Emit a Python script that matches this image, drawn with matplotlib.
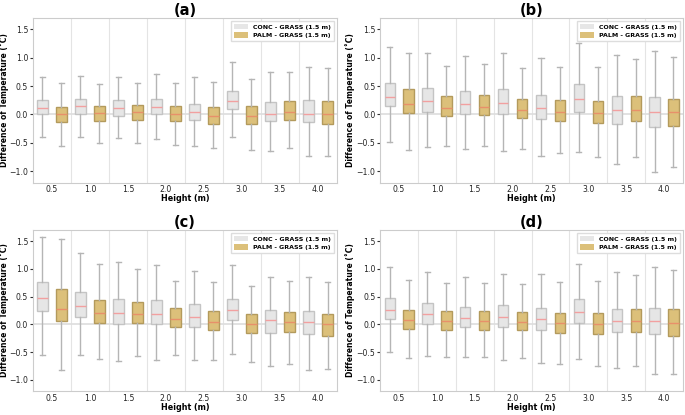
import matplotlib
matplotlib.use("Agg")
import matplotlib.pyplot as plt
from matplotlib.patches import Patch

# ------------------------------------
# Data: (whisker low, Q1, median, Q3, whisker high) per height
# ------------------------------------
heights = ['0.5', '1.0', '1.5', '2.0', '2.5', '3.0', '3.5', '4.0']
panels = ['(a)', '(b)', '(c)', '(d)']

conc_a = [(-0.40, 0.00, 0.12, 0.26, 0.65), (-0.39, 0.00, 0.14, 0.28, 0.67),
          (-0.41, -0.02, 0.12, 0.25, 0.65), (-0.43, 0.00, 0.135, 0.28, 0.72),
          (-0.56, -0.10, 0.035, 0.19, 0.65), (-0.40, 0.09, 0.235, 0.42, 0.92),
          (-0.65, -0.12, 0.015, 0.22, 0.74), (-0.73, -0.14, 0.015, 0.25, 0.84)]
palm_a = [(-0.55, -0.14, 0.00, 0.13, 0.55), (-0.51, -0.12, 0.02, 0.14, 0.54),
          (-0.50, -0.10, 0.035, 0.16, 0.55), (-0.53, -0.12, 0.00, 0.14, 0.55),
          (-0.59, -0.16, -0.02, 0.13, 0.57), (-0.63, -0.17, -0.035, 0.14, 0.62),
          (-0.59, -0.09, 0.035, 0.24, 0.75), (-0.73, -0.16, 0.00, 0.24, 0.82)]

conc_b = [(-0.49, 0.14, 0.31, 0.56, 1.18), (-0.58, 0.05, 0.235, 0.46, 1.09),
          (-0.60, 0.00, 0.18, 0.42, 1.02), (-0.64, 0.00, 0.20, 0.44, 1.08),
          (-0.73, -0.08, 0.11, 0.35, 0.99), (-0.67, 0.05, 0.27, 0.53, 1.25),
          (-0.88, -0.16, 0.07, 0.32, 1.04), (-1.02, -0.22, 0.035, 0.31, 1.11)]
palm_b = [(-0.63, 0.02, 0.18, 0.45, 1.09), (-0.55, -0.02, 0.12, 0.33, 0.86),
          (-0.55, -0.01, 0.13, 0.34, 0.88), (-0.60, -0.065, 0.075, 0.28, 0.81),
          (-0.68, -0.12, 0.035, 0.26, 0.83), (-0.75, -0.15, 0.02, 0.24, 0.84),
          (-0.75, -0.11, 0.075, 0.32, 0.97), (-0.93, -0.20, 0.035, 0.28, 1.01)]

conc_c = [(-0.56, 0.235, 0.48, 0.76, 1.57), (-0.56, 0.13, 0.33, 0.59, 1.28),
          (-0.66, 0.00, 0.20, 0.45, 1.12), (-0.65, 0.00, 0.19, 0.43, 1.07),
          (-0.65, -0.05, 0.14, 0.36, 0.96), (-0.54, 0.075, 0.26, 0.46, 1.06),
          (-0.75, -0.15, 0.07, 0.26, 0.86), (-0.82, -0.18, 0.045, 0.24, 0.86)]
palm_c = [(-0.82, 0.06, 0.27, 0.64, 1.54), (-0.63, 0.02, 0.20, 0.44, 1.09),
          (-0.57, 0.02, 0.18, 0.41, 0.99), (-0.55, -0.05, 0.10, 0.29, 0.78),
          (-0.64, -0.11, 0.04, 0.24, 0.76), (-0.67, -0.15, 0.00, 0.19, 0.69),
          (-0.71, -0.14, 0.04, 0.23, 0.78), (-0.80, -0.21, 0.00, 0.18, 0.76)]

conc_d = [(-0.49, 0.095, 0.265, 0.47, 1.04), (-0.57, 0.00, 0.18, 0.38, 0.94),
          (-0.59, -0.05, 0.11, 0.31, 0.85), (-0.64, -0.05, 0.13, 0.34, 0.91),
          (-0.69, -0.095, 0.095, 0.29, 0.90), (-0.62, 0.02, 0.22, 0.45, 1.09),
          (-0.79, -0.14, 0.065, 0.28, 0.94), (-0.89, -0.17, 0.06, 0.30, 1.03)]
palm_d = [(-0.61, -0.08, 0.075, 0.26, 0.80), (-0.59, -0.095, 0.06, 0.24, 0.74),
          (-0.59, -0.095, 0.065, 0.24, 0.74), (-0.61, -0.11, 0.05, 0.22, 0.72),
          (-0.71, -0.165, 0.02, 0.21, 0.76), (-0.76, -0.18, 0.00, 0.20, 0.78),
          (-0.76, -0.14, 0.06, 0.27, 0.89), (-0.90, -0.21, 0.03, 0.27, 0.97)]

conc_all = [conc_a, conc_b, conc_c, conc_d]
palm_all = [palm_a, palm_b, palm_c, palm_d]

conc_col = "#e6e6e6"
palm_col = "#dcc07a"


def to_stats(rows):
    return [dict(whislo=lo, q1=q1, med=m, q3=q3, whishi=hi, fliers=[])
            for lo, q1, m, q3, hi in rows]


def draw_boxes(ax, rows, pos, face, edge, med_col):
    ax.bxp(to_stats(rows), positions=pos, widths=0.27, patch_artist=True,
           showfliers=False,
           boxprops=dict(facecolor=face, edgecolor=edge, linewidth=1),
           whiskerprops=dict(color="#b5b5b5", linewidth=1),
           capprops=dict(color="#b5b5b5", linewidth=1),
           medianprops=dict(color=med_col, linewidth=1))


# ------------------------------------
# Figure Setup
# ------------------------------------
fig = plt.figure(figsize=(6.85, 4.15), dpi=100)
rects = [[0.048, 0.560, 0.444, 0.397], [0.555, 0.560, 0.442, 0.397],
         [0.048, 0.058, 0.444, 0.388], [0.555, 0.058, 0.442, 0.388]]

n = len(heights)
centers = list(range(n))
for k in range(4):
    ax = fig.add_axes(rects[k])
    for s in range(1, n):
        ax.axvline(s - 0.5, color="#e4e4e4", linewidth=0.8, zorder=0)
    ax.axhline(0, color="#dddddd", linewidth=1.2, zorder=0)

    draw_boxes(ax, conc_all[k], [c - 0.25 for c in centers],
               conc_col, "#c4c4c4", "#f2a0a0")
    draw_boxes(ax, palm_all[k], [c + 0.25 for c in centers],
               palm_col, "#b39a5c", "#e8906a")

    ax.set_xlim(-0.5, n - 0.5)
    ax.set_ylim(-1.2, 1.7)
    ax.set_xticks(centers)
    ax.set_xticklabels(heights)
    ax.set_yticks([-1.0, -0.5, 0.0, 0.5, 1.0, 1.5])
    ax.tick_params(labelsize=5.6, length=2, pad=1.5, colors="#333333", labelcolor="#222222")
    ax.tick_params(axis="x", length=0, pad=2)
    for sp in ax.spines.values():
        sp.set_color("#cccccc")

    ax.set_title(panels[k], fontsize=10.5, weight="bold", pad=2)
    ax.set_xlabel("Height (m)", fontsize=5.8, weight="bold", labelpad=0)
    ax.set_ylabel("Difference of Temperature (˚C)", fontsize=5.5, weight="bold")
    ax.yaxis.set_label_coords(-0.077 if k % 2 == 0 else -0.082, 0.5)

    handles = [Patch(facecolor=conc_col, edgecolor="none", label="CONC - GRASS (1.5 m)"),
               Patch(facecolor=palm_col, edgecolor="none", label="PALM - GRASS (1.5 m)")]
    ax.legend(handles=handles, loc="upper right", prop=dict(size=4.5, weight="bold"),
              handlelength=2.2, handleheight=0.9, borderpad=0.5, labelspacing=0.4,
              framealpha=1, edgecolor="#dddddd", fancybox=False)

fig.savefig("out.png", dpi=100)
